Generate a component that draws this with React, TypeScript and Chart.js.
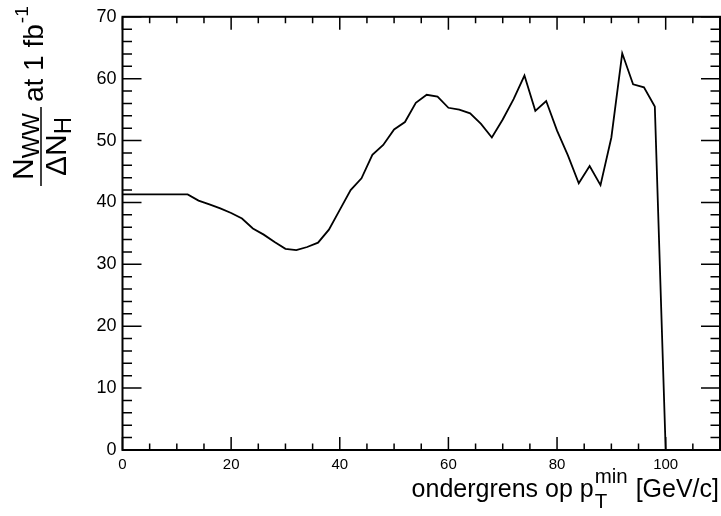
import React, { useEffect, useRef } from 'react';
import { Chart, registerables } from 'chart.js';

Chart.register(...registerables);

// ---- data ----
const ptMin: number[] = [
  0, 2, 4, 6, 8, 10, 12, 14, 16, 18, 20, 22, 24, 26, 28, 30, 32, 34, 36, 38, 40,
  42, 44, 46, 48, 50, 52, 54, 56, 58, 60, 62, 64, 66, 68, 70, 72, 74, 76, 78, 80,
  82, 84, 86, 88, 90, 92, 94, 96, 98, 100,
];
const ratio: number[] = [
  41.3, 41.3, 41.3, 41.3, 41.3, 41.3, 41.3, 40.3, 39.7, 39.05, 38.3, 37.4, 35.8,
  34.8, 33.6, 32.5, 32.3, 32.8, 33.5, 35.6, 38.8, 42.0, 43.9, 47.7, 49.3, 51.8,
  53.0, 56.1, 57.4, 57.1, 55.3, 55.0, 54.4, 52.7, 50.5, 53.4, 56.7, 60.5, 54.8,
  56.4, 51.6, 47.6, 43.1, 45.9, 42.8, 50.5, 64.1, 59.1, 58.6, 55.5, 0,
];
const xTickLabels: number[] = [0, 20, 40, 60, 80, 100];
const yTickLabels: number[] = [0, 10, 20, 30, 40, 50, 60, 70];
const xMinorTicks: number[] = [0, 5, 10, 15, 20, 25, 30, 35, 40, 45, 50, 55, 60, 65, 70, 75, 80, 85, 90, 95, 100, 105, 110];
const yMinorTicks: number[] = [0, 2, 4, 6, 8, 10, 12, 14, 16, 18, 20, 22, 24, 26, 28, 30, 32, 34, 36, 38, 40, 42, 44, 46, 48, 50, 52, 54, 56, 58, 60, 62, 64, 66, 68, 70];

const FONT = '"Liberation Sans", Arial, Helvetica, sans-serif';

const rootPlugin = {
  id: 'rootFrame',
  afterDraw(chart: any) {
    const { ctx, chartArea: a, scales } = chart;
    const xs = scales.x;
    const ys = scales.y;
    ctx.save();
    ctx.strokeStyle = '#000';
    ctx.fillStyle = '#000';
    // frame
    ctx.lineWidth = 2;
    ctx.strokeRect(a.left, a.top, a.right - a.left, a.bottom - a.top);
    // ticks
    ctx.lineWidth = 1.5;
    ctx.beginPath();
    for (const v of xMinorTicks) {
      const px = xs.getPixelForValue(v);
      const len = v % 20 === 0 ? 13 : 6.5;
      ctx.moveTo(px, a.bottom);
      ctx.lineTo(px, a.bottom - len);
      ctx.moveTo(px, a.top);
      ctx.lineTo(px, a.top + len);
    }
    for (const v of yMinorTicks) {
      const py = ys.getPixelForValue(v);
      const len = v % 10 === 0 ? 19 : 9.5;
      ctx.moveTo(a.left, py);
      ctx.lineTo(a.left + len, py);
      ctx.moveTo(a.right, py);
      ctx.lineTo(a.right - len, py);
    }
    ctx.stroke();

    // ---- x title: ondergrens op p_T^min [GeV/c] ----
    const fx = 25;
    const big = `${fx}px ${FONT}`;
    const small = `${fx * 0.82}px ${FONT}`;
    ctx.textBaseline = 'alphabetic';
    ctx.textAlign = 'left';
    ctx.font = big;
    const s1 = 'ondergrens op p';
    const s3 = ' [GeV/c]';
    const w1 = ctx.measureText(s1).width;
    const w3 = ctx.measureText(s3).width;
    ctx.font = small;
    const wT = ctx.measureText('T').width;
    const wMin = ctx.measureText('min').width;
    const w2 = Math.max(wT, wMin) + 2;
    const total = w1 + w2 + w3;
    const baseX = 719 - total;
    const baseY = 497;
    ctx.font = big;
    ctx.fillText(s1, baseX, baseY);
    ctx.font = small;
    ctx.fillText('T', baseX + w1 + 1, baseY + fx * 0.42);
    ctx.fillText('min', baseX + w1 + 1, baseY - fx * 0.55);
    ctx.font = big;
    ctx.fillText(s3, baseX + w1 + w2, baseY);

    // ---- y title: N_WW / ΔN_H at 1 fb^-1 (rotated) ----
    const fy = 28; // "at 1 fb"
    const ff = 30; // fraction main letters
    const fs = 24; // fraction subscripts
    const fsup = 19; // superscript -1
    ctx.font = `${ff}px ${FONT}`;
    const wN = ctx.measureText('N').width;
    const wDN = ctx.measureText('\u0394N').width;
    ctx.font = `${fy}px ${FONT}`;
    const wAt = ctx.measureText('at 1 fb').width;
    ctx.font = `${fs}px ${FONT}`;
    const wWW = ctx.measureText('WW').width;
    const wH = ctx.measureText('H').width;
    const numW = wN + wWW;
    const denW = wDN + wH;
    const fw = Math.max(numW, denW) + 16;
    const gap = 3;
    const bottomY = 188;
    const xBase = 43; // screen x of the baseline of "at 1 fb"
    ctx.translate(xBase, bottomY);
    ctx.rotate(-Math.PI / 2);
    const barY = -2;
    // numerator
    let u = (fw - numW) / 2;
    ctx.font = `${ff}px ${FONT}`;
    ctx.fillText('N', u, barY - 8);
    ctx.font = `${fs}px ${FONT}`;
    ctx.fillText('WW', u + wN, barY - 2);
    // denominator
    u = (fw - denW) / 2;
    ctx.font = `${ff}px ${FONT}`;
    ctx.fillText('\u0394N', u, barY + 25);
    ctx.font = `${fs}px ${FONT}`;
    ctx.fillText('H', u + wDN, barY + 30);
    // bar
    ctx.lineWidth = 1.5;
    ctx.beginPath();
    ctx.moveTo(2, barY);
    ctx.lineTo(fw - 2, barY);
    ctx.stroke();
    // at 1 fb^-1
    ctx.font = `${fy}px ${FONT}`;
    ctx.fillText('at 1 fb', fw + gap, 0);
    ctx.font = `${fsup}px ${FONT}`;
    ctx.fillText('-1', fw + gap + wAt + 1, -fy * 0.52);
    ctx.restore();
  },
};

export default function App() {
  const canvasRef = useRef<HTMLCanvasElement | null>(null);

  useEffect(() => {
    document.body.style.margin = '0';
    const canvas = canvasRef.current;
    if (!canvas) return;
    const chart = new Chart(canvas, {
      type: 'line',
      data: {
        datasets: [
          {
            data: ptMin.map((x, i) => ({ x, y: ratio[i] })),
            borderColor: '#000',
            borderWidth: 1.8,
            pointRadius: 0,
            tension: 0,
            fill: false,
          },
        ],
      },
      options: {
        responsive: false,
        animation: false,
        devicePixelRatio: 1,
        layout: { padding: { top: 9, right: 1, left: 0, bottom: 0 } },
        plugins: {
          legend: { display: false },
          tooltip: { enabled: false },
        },
        scales: {
          x: {
            type: 'linear',
            min: 0,
            max: 110,
            grid: { display: false, drawTicks: false },
            border: { display: false },
            afterBuildTicks: (scale: any) => {
              scale.ticks = xTickLabels.map((v) => ({ value: v }));
            },
            afterFit: (scale: any) => {
              scale.height = 66;
            },
            ticks: {
              autoSkip: false,
              maxRotation: 0,
              padding: 6,
              color: '#000',
              font: { family: FONT, size: 15 },
            },
          },
          y: {
            type: 'linear',
            min: 0,
            max: 70,
            grid: { display: false, drawTicks: false },
            border: { display: false },
            afterBuildTicks: (scale: any) => {
              scale.ticks = yTickLabels.map((v) => ({ value: v }));
            },
            afterFit: (scale: any) => {
              scale.width = 122.5;
            },
            ticks: {
              autoSkip: false,
              padding: 6,
              color: '#000',
              font: { family: FONT, size: 18 },
            },
          },
        },
      },
      plugins: [rootPlugin],
    });
    return () => chart.destroy();
  }, []);

  return (
    <div style={{ width: 721, height: 516, background: '#fff' }}>
      <canvas ref={canvasRef} width={721} height={516} style={{ display: 'block' }} />
    </div>
  );
}
